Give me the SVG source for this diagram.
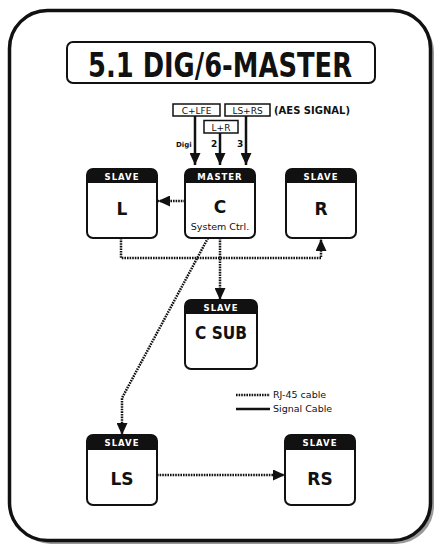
<svg xmlns="http://www.w3.org/2000/svg" width="437" height="546" viewBox="0 0 437 546">
<style>
.box{fill:#fff;stroke:#111;stroke-width:2}
.hdr{fill:#111}
.ht{font-family:"DejaVu Sans",sans-serif;font-weight:bold;font-size:8.5px;fill:#fff;text-anchor:middle;letter-spacing:1px}
.big{font-family:"DejaVu Sans",sans-serif;font-weight:bold;font-size:17px;fill:#111;text-anchor:middle}
.sm{font-family:"DejaVu Sans",sans-serif;font-size:9.5px;fill:#111}
.dot{fill:none;stroke:#111;stroke-width:2.5;stroke-dasharray:1.6 1}
.sig{fill:none;stroke:#111;stroke-width:2.5}
.aes{fill:#fff;stroke:#111;stroke-width:1.5}
.aest{font-family:"DejaVu Sans",sans-serif;font-size:9px;fill:#111;text-anchor:middle}
</style>
<defs>
<marker id="ah" markerUnits="userSpaceOnUse" markerWidth="12" markerHeight="11" refX="12" refY="5.5" orient="auto">
<path d="M0,0 L12,5.5 L0,11 Z" fill="#111"/>
</marker>
</defs>
<g id="frame">
<rect x="13" y="14" width="421" height="530" rx="38" fill="#9a9a9a"/>
<rect x="9.5" y="10.5" width="421" height="530" rx="38" fill="#fff" stroke="#111" stroke-width="3.5"/>
</g>
<g id="title">
<rect x="67" y="42" width="308" height="41" rx="6" fill="#fff" stroke="#111" stroke-width="2"/>
<text x="220" y="77" font-family="DejaVu Sans,sans-serif" font-weight="bold" font-size="34" fill="#111" text-anchor="middle" textLength="264" lengthAdjust="spacingAndGlyphs">5.1 DIG/6-MASTER</text>
</g>
<g id="aes">
<rect class="aes" x="173" y="104" width="47" height="12"/>
<text class="aest" x="196.5" y="113.5">C+LFE</text>
<rect class="aes" x="225" y="104" width="45" height="12"/>
<text class="aest" x="247.5" y="113.5">LS+RS</text>
<rect class="aes" x="204" y="120.5" width="34" height="12.5"/>
<text class="aest" x="221" y="130.5">L+R</text>
<text x="274" y="114" font-family="DejaVu Sans,sans-serif" font-weight="bold" font-size="10" fill="#111">(AES SIGNAL)</text>
<text x="176" y="147" font-family="DejaVu Sans,sans-serif" font-weight="bold" font-size="7" fill="#111">Digi</text>
<text x="211" y="147" font-family="DejaVu Sans,sans-serif" font-weight="bold" font-size="9" fill="#111">2</text>
<text x="237" y="147" font-family="DejaVu Sans,sans-serif" font-weight="bold" font-size="9" fill="#111">3</text>
</g>
<g id="connectors">
<line class="sig" x1="195" y1="116" x2="195" y2="165" marker-end="url(#ah)"/>
<line class="sig" x1="220" y1="133" x2="220" y2="165" marker-end="url(#ah)"/>
<line class="sig" x1="246" y1="116" x2="246" y2="165" marker-end="url(#ah)"/>
<line class="dot" x1="185" y1="201" x2="158" y2="201" marker-end="url(#ah)"/>
<polyline class="dot" points="121,238 121,258 321,258 321,239" marker-end="url(#ah)"/>
<line class="dot" x1="220" y1="238" x2="220" y2="300" marker-end="url(#ah)"/>
<polyline class="dot" points="208,238 122,398 122,435" marker-end="url(#ah)"/>
<line class="dot" x1="157" y1="475" x2="285" y2="475" marker-end="url(#ah)"/>
</g>
<g id="node-L">
<rect class="box" x="87" y="169" width="70" height="69" rx="6"/>
<path class="hdr" d="M87,183 V175 Q87,169 93,169 H151 Q157,169 157,175 V183 Z"/>
<text class="ht" x="122" y="180">SLAVE</text>
<text class="big" x="122" y="215" font-size="18">L</text>
</g>
<g id="node-C">
<rect class="box" x="185" y="169" width="70" height="69" rx="6"/>
<path class="hdr" d="M185,183 V175 Q185,169 191,169 H249 Q255,169 255,175 V183 Z"/>
<text class="ht" x="220" y="180">MASTER</text>
<text class="big" x="220" y="213" font-size="19">C</text>
<text class="sm" x="220" y="230" text-anchor="middle">System Ctrl.</text>
</g>
<g id="node-R">
<rect class="box" x="286" y="169" width="70" height="69" rx="6"/>
<path class="hdr" d="M286,183 V175 Q286,169 292,169 H350 Q356,169 356,175 V183 Z"/>
<text class="ht" x="321" y="180">SLAVE</text>
<text class="big" x="321" y="215" font-size="18">R</text>
</g>
<g id="node-CSUB">
<rect class="box" x="185" y="300" width="72" height="69" rx="6"/>
<path class="hdr" d="M185,314 V306 Q185,300 191,300 H251 Q257,300 257,306 V314 Z"/>
<text class="ht" x="221" y="311">SLAVE</text>
<text class="big" x="221" y="339" font-size="18" textLength="52" lengthAdjust="spacingAndGlyphs">C SUB</text>
</g>
<g id="node-LS">
<rect class="box" x="87" y="435" width="70" height="70" rx="6"/>
<path class="hdr" d="M87,450 V441 Q87,435 93,435 H151 Q157,435 157,441 V450 Z"/>
<text class="ht" x="122" y="446">SLAVE</text>
<text class="big" x="122" y="485">LS</text>
</g>
<g id="node-RS">
<rect class="box" x="285" y="435" width="70" height="70" rx="6"/>
<path class="hdr" d="M285,450 V441 Q285,435 291,435 H349 Q355,435 355,441 V450 Z"/>
<text class="ht" x="320" y="446">SLAVE</text>
<text class="big" x="320" y="485">RS</text>
</g>
<g id="legend">
<line class="dot" x1="236" y1="395" x2="270" y2="395"/>
<line class="sig" x1="236" y1="409" x2="270" y2="409" stroke-width="2"/>
<text class="sm" x="273" y="398" font-size="8.5">RJ-45 cable</text>
<text class="sm" x="273" y="412" font-size="8.5">Signal Cable</text>
</g>
</svg>
